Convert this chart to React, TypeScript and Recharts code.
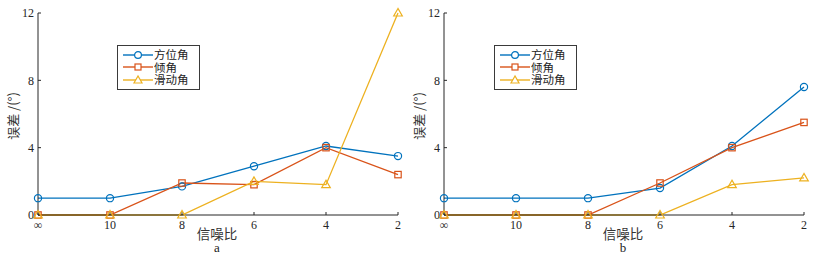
import React from 'react';
import { LineChart, Line, XAxis, YAxis, Legend } from 'recharts';

const categories = ['∞', '10', '8', '6', '4', '2'];
const yTicks = [0, 4, 8, 12];
const seriesNames = ['方位角', '倾角', '滑动角'];

const aAzimuth = [1.0, 1.0, 1.7, 2.9, 4.1, 3.5];
const aDip = [0, 0, 1.9, 1.8, 4.0, 2.4];
const aRake = [0, 0, 0, 2.0, 1.8, 12.0];

const bAzimuth = [1.0, 1.0, 1.0, 1.6, 4.1, 7.6];
const bDip = [0, 0, 0, 1.9, 4.0, 5.5];
const bRake = [0, 0, 0, 0, 1.8, 2.2];

const COLORS = ['#0072BD', '#D95319', '#EDB120'];
const AXIS = '#262626';
const SERIF = '"Liberation Serif", "DejaVu Serif", serif';
const CJK = '"Noto Sans CJK SC", "Liberation Serif", serif';

const build = (s1: number[], s2: number[], s3: number[]) =>
  categories.map((c, i) => ({ snr: c, s1: s1[i], s2: s2[i], s3: s3[i] }));

const CircleDot = (props: any) => {
  const { cx, cy, stroke, index } = props;
  if (cx == null || cy == null) return <g key={index} />;
  return <circle key={index} cx={cx} cy={cy} r={3.6} fill="none" stroke={stroke} strokeWidth={1.2} />;
};
const SquareDot = (props: any) => {
  const { cx, cy, stroke, index } = props;
  if (cx == null || cy == null) return <g key={index} />;
  return <rect key={index} x={cx - 3.2} y={cy - 3.2} width={6.4} height={6.4} fill="none" stroke={stroke} strokeWidth={1.2} />;
};
const TriDot = (props: any) => {
  const { cx, cy, stroke, index } = props;
  if (cx == null || cy == null) return <g key={index} />;
  const pts = `${cx},${cy - 4.5} ${cx - 4.3},${cy + 3} ${cx + 4.3},${cy + 3}`;
  return <polygon key={index} points={pts} fill="none" stroke={stroke} strokeWidth={1.2} />;
};

const markerIcon = (i: number, color: string) => {
  const cx = 15;
  const cy = 6;
  if (i === 0) return <circle cx={cx} cy={cy} r={3.4} fill="white" stroke={color} strokeWidth={1.2} />;
  if (i === 1) return <rect x={cx - 3} y={cy - 3} width={6} height={6} fill="white" stroke={color} strokeWidth={1.2} />;
  return <polygon points={`${cx},${cy - 4} ${cx - 4},${cy + 3} ${cx + 4},${cy + 3}`} fill="white" stroke={color} strokeWidth={1.2} />;
};

const LegendBox = () => (
  <div
    style={{
      border: '1.5px solid #3a3a3a',
      background: '#fff',
      width: 81,
      height: 40,
      boxSizing: 'content-box',
      paddingTop: 2.5,
      paddingBottom: 0,
    }}
  >
    {seriesNames.map((n, i) => (
      <div key={n} style={{ display: 'flex', alignItems: 'center', height: 12.6, paddingLeft: 5, overflow: 'visible' }}>
        <svg width={30} height={12} style={{ display: 'block', flex: 'none' }}>
          <line x1={0} y1={6} x2={30} y2={6} stroke={COLORS[i]} strokeWidth={1.4} />
          {markerIcon(i, COLORS[i])}
        </svg>
        <span style={{ fontFamily: CJK, fontSize: 11.5, color: '#222', marginLeft: 1, lineHeight: '11px', display: 'block' }}>{n}</span>
      </div>
    ))}
  </div>
);

const Panel = ({ data, left, caption, legendLeft }: any) => (
  <div style={{ position: 'absolute', left, top: 0, width: 408, height: 255 }}>
    <LineChart width={408} height={255} data={data} margin={{ top: 13, right: 10, bottom: 20, left: 8 }}>
      <XAxis
        dataKey="snr"
        type="category"
        interval={0}
        tickSize={-3}
        tickMargin={8}
        height={20}
        stroke={AXIS}
        tick={{ fill: AXIS, fontSize: 12, fontFamily: SERIF }}
        axisLine={{ stroke: AXIS, strokeWidth: 1 }}
        tickLine={{ stroke: AXIS }}
      />
      <XAxis xAxisId="top" dataKey="snr" orientation="top" height={0} tick={false} tickLine={false} axisLine={{ stroke: '#111', strokeWidth: 1 }} />
      <YAxis
        type="number"
        domain={[0, 12]}
        ticks={yTicks}
        width={30}
        tickSize={-3}
        tickMargin={7}
        interval={0}
        stroke={AXIS}
        tick={{ fill: AXIS, fontSize: 12, fontFamily: SERIF }}
        axisLine={{ stroke: AXIS, strokeWidth: 1 }}
        tickLine={{ stroke: AXIS }}
      />
      <YAxis yAxisId="right" orientation="right" type="number" domain={[0, 12]} width={0} tick={false} tickLine={false} axisLine={{ stroke: '#111', strokeWidth: 1 }} />
      <Line dataKey="s1" name={seriesNames[0]} stroke={COLORS[0]} strokeWidth={1.3} dot={<CircleDot />} isAnimationActive={false} />
      <Line dataKey="s2" name={seriesNames[1]} stroke={COLORS[1]} strokeWidth={1.3} dot={<SquareDot />} isAnimationActive={false} />
      <Line dataKey="s3" name={seriesNames[2]} stroke={COLORS[2]} strokeWidth={1.3} dot={<TriDot />} isAnimationActive={false} />
      <Legend
        layout="vertical"
        align="center"
        verticalAlign="middle"
        content={<LegendBox />}
        wrapperStyle={{ left: legendLeft, top: 45, width: 'auto' }}
      />
    </LineChart>
    <div
      style={{
        position: 'absolute',
        left: 13,
        top: 116,
        transform: 'translate(-50%, -50%) rotate(-90deg)',
        fontFamily: CJK,
        fontSize: 13,
        lineHeight: '14px',
        color: '#333',
        whiteSpace: 'nowrap',
      }}
    >
      误差 /(°)
    </div>
    <div style={{ position: 'absolute', left: 217, top: 233, transform: 'translate(-50%, -50%)', fontFamily: CJK, fontSize: 13.5, lineHeight: '13px', color: '#333', whiteSpace: 'nowrap' }}>
      信噪比
    </div>
    <div style={{ position: 'absolute', left: 217, top: 247.5, transform: 'translate(-50%, -50%)', fontFamily: SERIF, fontSize: 13, lineHeight: '12px', color: '#222' }}>
      {caption}
    </div>
  </div>
);

export default function App() {
  const dataA = build(aAzimuth, aDip, aRake);
  const dataB = build(bAzimuth, bDip, bRake);
  return (
    <div style={{ position: 'absolute', left: 0, top: 0, width: 816, height: 255, background: '#fff', overflow: 'hidden' }}>
      <Panel data={dataA} left={0} caption="a" legendLeft={117} />
      <Panel data={dataB} left={406} caption="b" legendLeft={88} />
    </div>
  );
}
